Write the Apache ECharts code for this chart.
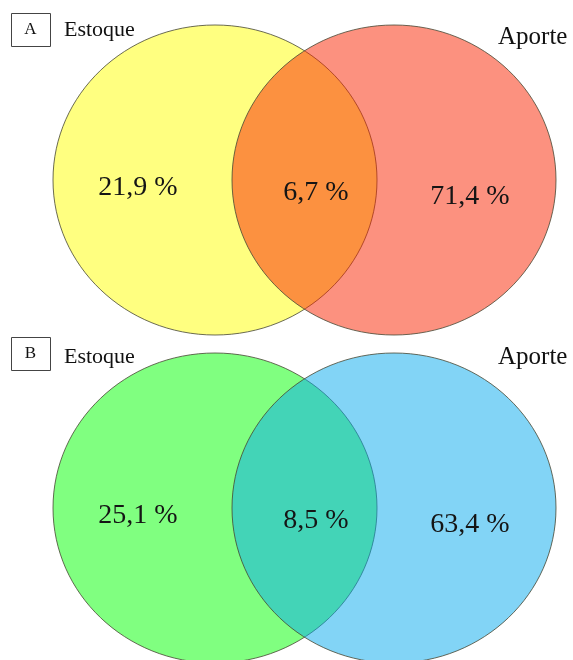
<!DOCTYPE html>
<html>
<head>
<meta charset="utf-8">
<title>Estoque x Aporte</title>
<script src="https://cdn.jsdelivr.net/npm/echarts@6/dist/echarts.min.js"></script>
<style>
  html, body { margin: 0; padding: 0; background: #fff; }
  #main { width: 573px; height: 660px; }
</style>
</head>
<body>
<div id="main"></div>
<script>
// data
const panels = ['A', 'B'];
const setNames = ['Estoque', 'Aporte'];
const onlyEstoque = [21.9, 25.1];
const shared = [6.7, 8.5];
const onlyAporte = [71.4, 63.4];

// colours per panel (left set opaque, right set half transparent on top)
const leftColors = ['#ffff80', '#80ff80'];
const rightColors = ['rgba(249,35,0,0.5)', 'rgba(5,169,237,0.5)'];

// layout, in units of the hidden axes (1 unit = 1 px)
const rowY = [180, 508];
const circleX = [215, 394];
const radius = [162, 155];
const labelX = [138, 316, 470];
const labelDy = [8, 13, 17];

const serif = '"Liberation Serif", "DejaVu Serif", serif';

function pct(v) {
  return v.toFixed(1).replace('.', ',') + ' %';
}

let circles = [];
let labels = [];
panels.forEach((p, i) => {
  circles.push([circleX[0], rowY[i], 0, i]);
  circles.push([circleX[1], rowY[i], 1, i]);
  [onlyEstoque[i], shared[i], onlyAporte[i]].forEach((v, k) => {
    labels.push([labelX[k], rowY[i] + labelDy[k], v]);
  });
});

let graphics = [];
const boxY = [13, 337];
const nameY = [[30, 37], [357, 357]];
panels.forEach((p, i) => {
  graphics.push({
    type: 'rect', left: 11, top: boxY[i],
    shape: { width: 39, height: 33 },
    style: { fill: '#fff', stroke: '#444', lineWidth: 1 }
  });
  graphics.push({
    type: 'text', x: 30.5, y: boxY[i] + 17,
    style: { text: p, font: '17px ' + serif, fill: '#111', align: 'center', verticalAlign: 'middle' }
  });
  graphics.push({
    type: 'text', x: 64, y: nameY[i][0],
    style: { text: setNames[0], font: '22px ' + serif, fill: '#111', verticalAlign: 'middle' }
  });
  graphics.push({
    type: 'text', x: 498, y: nameY[i][1],
    style: { text: setNames[1], font: '25px ' + serif, fill: '#111', verticalAlign: 'middle' }
  });
});

var myChart = echarts.init(document.getElementById('main'));

option = {
  animation: false,
  grid: { left: 0, right: 0, top: 0, bottom: 0 },
  xAxis: { type: 'value', min: 0, max: 573, show: false },
  yAxis: { type: 'value', min: 0, max: 660, inverse: true, show: false },
  graphic: graphics,
  series: [
    {
      type: 'custom',
      data: circles,
      renderItem: function (params, api) {
        const c = api.coord([api.value(0), api.value(1)]);
        const s = api.size(radius);
        const k = api.value(2), p = api.value(3);
        return {
          type: 'ellipse',
          shape: { cx: c[0], cy: c[1], rx: s[0], ry: s[1] },
          style: {
            fill: k === 0 ? leftColors[p] : rightColors[p],
            stroke: 'rgba(70,70,50,0.8)',
            lineWidth: 1
          }
        };
      }
    },
    {
      type: 'custom',
      data: labels,
      z: 5,
      renderItem: function (params, api) {
        const c = api.coord([api.value(0), api.value(1)]);
        return {
          type: 'text',
          x: c[0], y: c[1],
          style: {
            text: pct(api.value(2)),
            font: '28px ' + serif,
            fill: '#151515',
            align: 'center',
            verticalAlign: 'middle'
          }
        };
      }
    }
  ]
};

myChart.setOption(option);
</script>
</body>
</html>
